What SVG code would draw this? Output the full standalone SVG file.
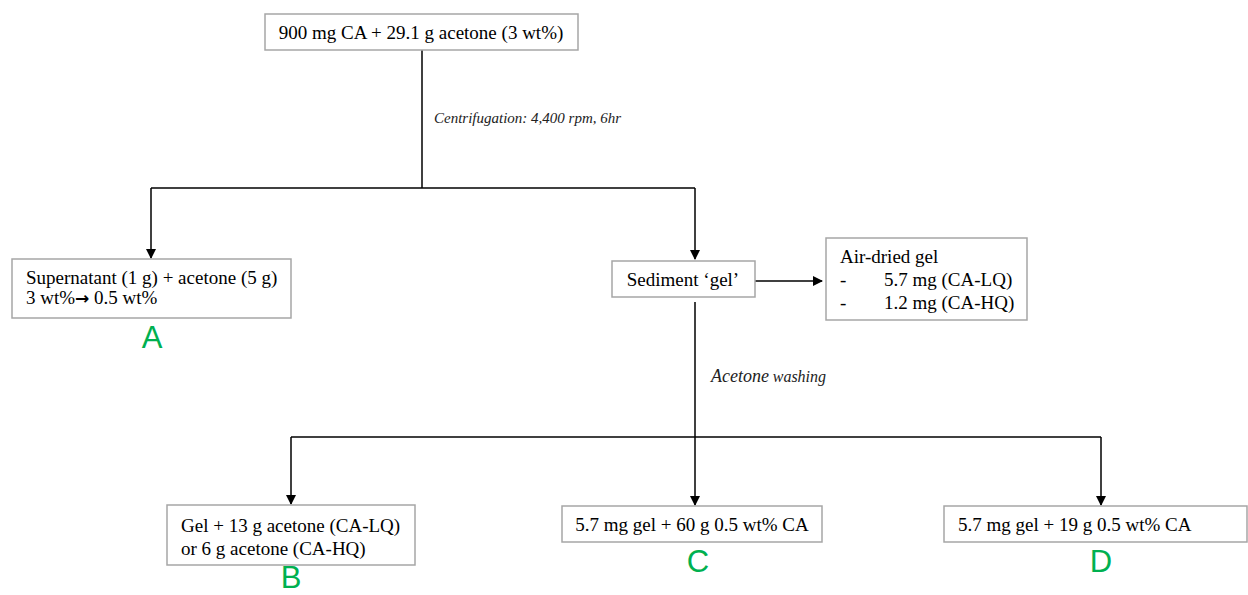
<svg xmlns="http://www.w3.org/2000/svg" width="1248" height="595" viewBox="0 0 1248 595">
<defs>
<marker id="ah" markerWidth="10" markerHeight="10" refX="9" refY="5" orient="auto" markerUnits="userSpaceOnUse">
<path d="M0,0 L10,5 L0,10 z" fill="#000"/>
</marker>
<style>
.box{fill:#fff;stroke:#a6a6a6;stroke-width:1.5}
.t{font-family:"Liberation Serif",serif;font-size:19px;fill:#000}
.i{font-family:"Liberation Serif",serif;font-style:italic;font-size:15px;fill:#222}
.lbl{font-family:"Liberation Sans",Arial,sans-serif;font-size:31px;fill:#00b050;text-anchor:middle}
.ln{fill:none;stroke:#000;stroke-width:1.5}
</style>
</defs>
<rect width="1248" height="595" fill="#fff"/>
<g id="connectors">
<path class="ln" d="M422,50 V188"/>
<path class="ln" d="M151,188 H695"/>
<path class="ln" d="M151,188 V258" marker-end="url(#ah)"/>
<path class="ln" d="M695,188 V259" marker-end="url(#ah)"/>
<path class="ln" d="M755,281 H822" marker-end="url(#ah)"/>
<path class="ln" d="M695,302 V437"/>
<path class="ln" d="M291,437 H1101"/>
<path class="ln" d="M291,437 V504" marker-end="url(#ah)"/>
<path class="ln" d="M695,437 V505" marker-end="url(#ah)"/>
<path class="ln" d="M1101,437 V505" marker-end="url(#ah)"/>
<text class="i" x="434" y="123">Centrifugation: 4,400 rpm, 6hr</text>
<text class="i" x="711" y="382"><tspan font-size="18px">Acetone</tspan> <tspan font-size="16px">washing</tspan></text>
</g>
<g id="start">
<rect class="box" x="265" y="14" width="313" height="36"/>
<text class="t" x="421" y="39" text-anchor="middle">900 mg CA + 29.1 g acetone (3 wt%)</text>
</g>
<g id="nodeA">
<rect class="box" x="12" y="259" width="279" height="59"/>
<text class="t" x="26" y="284">Supernatant  (1 g) + acetone (5 g)</text>
<text class="t" x="26" y="304">3 wt%<tspan font-family="'DejaVu Sans',sans-serif" font-size="17px" font-weight="bold">→</tspan> 0.5 wt%</text>
<text class="lbl" x="152" y="348">A</text>
</g>
<g id="sediment">
<rect class="box" x="612" y="261" width="143" height="36"/>
<text class="t" x="683" y="286" text-anchor="middle">Sediment ‘gel’</text>
</g>
<g id="airdried">
<rect class="box" x="826" y="238" width="201" height="82"/>
<text class="t" x="840" y="263">Air-dried gel</text>
<text class="t" x="840" y="286">-</text>
<text class="t" x="884" y="286">5.7 mg (CA-LQ)</text>
<text class="t" x="840" y="309">-</text>
<text class="t" x="884" y="309">1.2 mg (CA-HQ)</text>
</g>
<g id="nodeB">
<rect class="box" x="167" y="505" width="248" height="60"/>
<text class="t" x="181" y="532">Gel + 13 g acetone (CA-LQ)</text>
<text class="t" x="181" y="555">or 6 g acetone (CA-HQ)</text>
<text class="lbl" x="291" y="588">B</text>
</g>
<g id="nodeC">
<rect class="box" x="562" y="506" width="260" height="36"/>
<text class="t" x="692" y="531" text-anchor="middle">5.7 mg gel + 60 g 0.5 wt% CA</text>
<text class="lbl" x="698" y="572">C</text>
</g>
<g id="nodeD">
<rect class="box" x="944" y="506" width="303" height="36"/>
<text class="t" x="958" y="531">5.7 mg gel + 19 g 0.5 wt% CA</text>
<text class="lbl" x="1101" y="572">D</text>
</g>
</svg>
